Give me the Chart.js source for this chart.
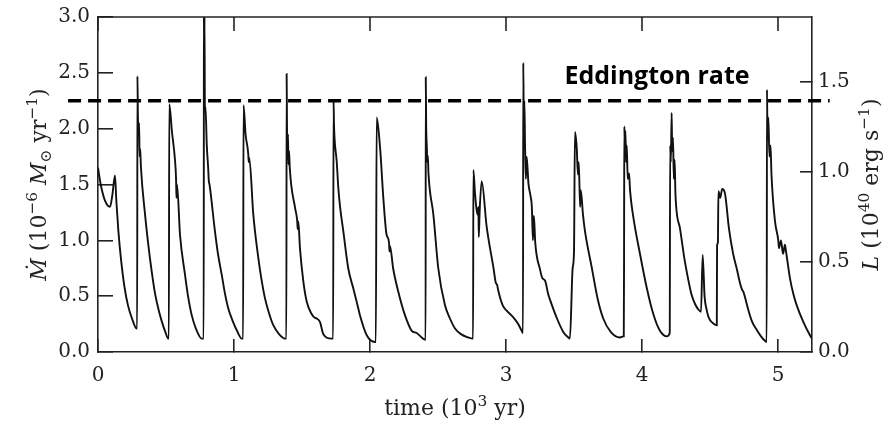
<!DOCTYPE html>
<html>
<head>
<meta charset="utf-8">
<script src="https://cdn.jsdelivr.net/npm/chart.js@4.4.1/dist/chart.umd.min.js"></script>
<style>
  html, body { margin: 0; padding: 0; background: #fff; }
</style>
</head>
<body>
<canvas id="grafico" width="888" height="426"></canvas>
<script>
// tempo em 10^3 yr, taxa de acrecao em 10^-6 Msun/yr
const tempo = [
  0.000, 0.020, 0.050, 0.088, 0.105, 0.125, 0.135, 0.150, 0.170, 0.195, 0.220, 0.250, 0.284,
  0.288, 0.290, 0.293, 0.298, 0.302, 0.306, 0.310, 0.316, 0.346, 0.368, 0.395, 0.420, 0.445, 0.470, 0.495, 0.517,
  0.521, 0.524, 0.544, 0.566, 0.574, 0.577, 0.581, 0.603, 0.640, 0.662, 0.689, 0.720, 0.763,
  0.777, 0.779, 0.781, 0.783, 0.786, 0.790, 0.800, 0.810, 0.815, 0.820, 0.860, 0.882, 0.910, 0.934, 0.958, 0.993, 1.022, 1.057,
  1.067, 1.070, 1.085, 1.105, 1.108, 1.112, 1.142, 1.179, 1.202, 1.228, 1.257, 1.289, 1.331, 1.375,
  1.385, 1.387, 1.390, 1.393, 1.397, 1.400, 1.405, 1.410, 1.449, 1.465, 1.468, 1.473, 1.485, 1.510, 1.535, 1.571, 1.590, 1.608, 1.632, 1.657, 1.718,
  1.729, 1.732, 1.735, 1.740, 1.755, 1.767, 1.780, 1.804, 1.840, 1.877, 1.904, 1.926, 1.976, 2.037,
  2.043, 2.049, 2.074, 2.098, 2.122, 2.140, 2.143, 2.147, 2.170, 2.208, 2.257, 2.307, 2.343, 2.380, 2.407,
  2.409, 2.410, 2.413, 2.418, 2.421, 2.425, 2.430, 2.466, 2.502, 2.551, 2.588, 2.625, 2.669, 2.723, 2.756,
  2.758, 2.760, 2.772, 2.790, 2.797, 2.800, 2.806, 2.821, 2.858, 2.907, 2.925, 2.935, 2.943, 2.975, 3.005, 3.054, 3.090, 3.115, 3.125,
  3.127, 3.131, 3.135, 3.140, 3.146, 3.152, 3.165, 3.180, 3.190, 3.198, 3.205, 3.215, 3.250, 3.268, 3.287, 3.310, 3.326, 3.375, 3.421, 3.458, 3.470,
  3.490, 3.500, 3.507, 3.520, 3.529, 3.535, 3.545, 3.550, 3.566, 3.581, 3.630, 3.675, 3.715, 3.770, 3.838, 3.864,
  3.866, 3.868, 3.870, 3.874, 3.878, 3.883, 3.888, 3.895, 3.905, 3.912, 3.936, 3.985, 4.034, 4.083, 4.132, 4.182, 4.204,
  4.207, 4.212, 4.218, 4.222, 4.228, 4.234, 4.240, 4.246, 4.279, 4.310, 4.335, 4.363, 4.390, 4.415, 4.434, 4.446, 4.460, 4.475, 4.490, 4.520, 4.550,
  4.552, 4.558, 4.562, 4.575, 4.590, 4.610, 4.640, 4.670, 4.696, 4.720, 4.735, 4.745, 4.781, 4.810, 4.843, 4.875, 4.904, 4.917,
  4.919, 4.923, 4.929, 4.937, 4.945, 4.952, 4.978, 5.002, 5.007, 5.022, 5.037, 5.051, 5.059, 5.088, 5.113, 5.137, 5.186, 5.235, 5.250
];
const mdot = [
  1.65, 1.50, 1.36, 1.30, 1.40, 1.58, 1.35, 1.08, 0.82, 0.58, 0.42, 0.30, 0.21,
  0.21, 2.47, 2.15, 1.95, 2.05, 1.75, 1.82, 1.65, 1.23, 0.98, 0.72, 0.52, 0.38, 0.27, 0.18, 0.12,
  0.12, 2.22, 1.97, 1.72, 1.55, 1.38, 1.50, 1.05, 0.69, 0.50, 0.33, 0.21, 0.12,
  0.12, 3.00, 2.30, 3.00, 2.15, 2.20, 1.85, 1.65, 1.53, 1.50, 1.08, 0.88, 0.69, 0.52, 0.39, 0.27, 0.19, 0.12,
  0.12, 2.21, 1.95, 1.77, 1.70, 1.74, 1.23, 0.84, 0.65, 0.48, 0.35, 0.24, 0.16, 0.12,
  0.12, 2.49, 1.97, 1.80, 1.95, 1.68, 1.80, 1.65, 1.29, 1.17, 1.10, 1.17, 0.93, 0.63, 0.45, 0.34, 0.31, 0.30, 0.27, 0.16, 0.12,
  0.12, 2.25, 2.05, 1.90, 1.71, 1.47, 1.30, 1.08, 0.75, 0.57, 0.44, 0.33, 0.15, 0.09,
  0.09, 2.10, 1.83, 1.38, 1.05, 0.98, 0.90, 0.95, 0.75, 0.54, 0.33, 0.19, 0.17, 0.13, 0.11,
  0.11, 2.46, 2.03, 1.83, 1.70, 1.76, 1.60, 1.23, 0.75, 0.42, 0.30, 0.21, 0.16, 0.13, 0.12,
  0.12, 1.63, 1.42, 1.23, 1.30, 1.03, 1.25, 1.53, 1.12, 0.76, 0.62, 0.60, 0.55, 0.42, 0.37, 0.31, 0.25, 0.19, 0.17,
  2.59, 2.05, 2.25, 1.85, 1.55, 1.75, 1.51, 1.40, 1.30, 1.00, 1.22, 0.98, 0.74, 0.66, 0.64, 0.52, 0.46, 0.30, 0.18, 0.13, 0.12,
  0.75, 0.90, 1.97, 1.83, 1.59, 1.70, 1.30, 1.45, 1.23, 1.08, 0.76, 0.47, 0.30, 0.18, 0.13, 0.14,
  0.14, 0.80, 2.02, 1.85, 1.98, 1.70, 1.85, 1.55, 1.60, 1.45, 1.21, 0.88, 0.58, 0.34, 0.19, 0.14, 0.17,
  1.85, 1.70, 2.14, 1.80, 1.92, 1.55, 1.72, 1.41, 1.11, 0.85, 0.68, 0.52, 0.43, 0.38, 0.36, 0.87, 0.50, 0.38, 0.31, 0.26, 0.24,
  0.95, 0.98, 1.44, 1.38, 1.46, 1.42, 1.10, 0.88, 0.75, 0.62, 0.56, 0.54, 0.38, 0.27, 0.20, 0.14, 0.10, 0.09,
  2.35, 1.90, 2.10, 1.75, 1.85, 1.59, 1.17, 1.00, 0.93, 1.00, 0.88, 0.96, 0.90, 0.66, 0.52, 0.42, 0.27, 0.15, 0.12
];

const xTicks = [0, 1, 2, 3, 4, 5];
const mdotTicks = [0, 0.5, 1, 1.5, 2, 2.5, 3];
const lumTicks = [0, 0.5, 1, 1.5];
const xMin = 0, xMax = 5.25, mdotMax = 3;
const lumPorMdot = 0.619;          // L (10^40 erg/s) por unidade de Mdot
const eddington = 2.25;
const eddExtensao = [-0.22, 5.38];
const eddTexto = 'Eddington rate';
const eddTextoPos = [4.11, 2.40];
const marcaTopo = 0.125;           // comprimento das marcas de cima, em unidades de Mdot

const pontos = tempo.map((t, i) => ({ x: t, y: mdot[i] }));
const linhaEdd = eddExtensao.map(t => ({ x: t, y: eddington }));
// borda de cima e marcas de cima como linhas
const bordaTopo = [{ x: xMin, y: mdotMax }, { x: xMax, y: mdotMax }];
const marcasTopo = xTicks.flatMap(v => [{ x: v, y: mdotMax }, { x: v, y: mdotMax - marcaTopo }, { x: v, y: null }]);

const tituloX = [{ t: 'time (10' }, { t: '3', s: 'sup' }, { t: ' yr)' }];
const tituloY = [{ t: 'Ṁ', i: true }, { t: ' (10' }, { t: '−6', s: 'sup' }, { t: ' ' }, { t: 'M', i: true },
                 { t: '⊙', s: 'sub' }, { t: ' yr' }, { t: '−1', s: 'sup' }, { t: ')' }];
const tituloY2 = [{ t: 'L', i: true }, { t: ' (10' }, { t: '40', s: 'sup' }, { t: ' erg s' }, { t: '−1', s: 'sup' }, { t: ')' }];

function fonte(p, size) {
  const sz = (p.s === 'sup' || p.s === 'sub') ? size * 0.7 : size;
  return (p.i ? 'italic ' : '') + sz + 'px "DejaVu Serif"';
}

function textoRico(ctx, partes, size) {
  let w = 0;
  partes.forEach(p => { ctx.font = fonte(p, size); w += ctx.measureText(p.t).width; });
  let x = -w / 2;
  partes.forEach(p => {
    ctx.font = fonte(p, size);
    const dy = p.s === 'sup' ? -size * 0.42 : p.s === 'sub' ? size * 0.22 : 0;
    ctx.fillText(p.t, x, dy);
    x += ctx.measureText(p.t).width;
  });
}

// rotulo de Eddington e titulos com sobrescritos
const textos = {
  id: 'textos',
  afterDraw(chart) {
    const ctx = chart.ctx;
    const a = chart.chartArea;
    const sx = chart.scales.x, sy = chart.scales.y;
    ctx.save();
    ctx.fillStyle = '#000';
    ctx.font = 'bold 25px "Open Sans"';
    ctx.textAlign = 'center';
    ctx.textBaseline = 'alphabetic';
    ctx.fillText(eddTexto, sx.getPixelForValue(eddTextoPos[0]), sy.getPixelForValue(eddTextoPos[1]));

    ctx.fillStyle = '#222';
    ctx.textAlign = 'left';
    const cx = (a.left + a.right) / 2, cy = (a.top + a.bottom) / 2;
    ctx.save();
    ctx.translate(cx, 415);
    textoRico(ctx, tituloX, 22);
    ctx.restore();
    ctx.save();
    ctx.translate(46, cy);
    ctx.rotate(-Math.PI / 2);
    textoRico(ctx, tituloY, 22);
    ctx.restore();
    ctx.save();
    ctx.translate(878, cy);
    ctx.rotate(-Math.PI / 2);
    textoRico(ctx, tituloY2, 22);
    ctx.restore();
    ctx.restore();
  }
};

const fonteTicks = { family: 'DejaVu Serif', size: 20 };
const borda = { display: true, color: '#222', width: 1.6 };
// marcas para dentro: tickLength negativo
const marcas = len => ({ display: true, drawOnChartArea: false, drawTicks: true, tickLength: -len,
                         color: '#222', tickColor: '#222', lineWidth: 1.6, tickWidth: 1.6 });
// sem folga extra das escalas verticais no topo/base
const semFolga = s => { s.paddingTop = 0; s.paddingBottom = 0; };

new Chart(document.getElementById('grafico'), {
  type: 'line',
  data: {
    datasets: [
      { data: pontos, borderColor: '#111', borderWidth: 1.9, pointRadius: 0,
        cubicInterpolationMode: 'monotone', yAxisID: 'y' },
      { data: linhaEdd, borderColor: '#000', borderWidth: 3.5, borderDash: [13, 7],
        pointRadius: 0, clip: false, yAxisID: 'y' },
      { data: bordaTopo, borderColor: '#222', borderWidth: 1.6, pointRadius: 0,
        clip: false, yAxisID: 'y' },
      { data: marcasTopo, borderColor: '#222', borderWidth: 1.6, pointRadius: 0,
        spanGaps: false, clip: false, yAxisID: 'y' }
    ]
  },
  options: {
    responsive: false,
    animation: false,
    devicePixelRatio: 1,
    layout: { padding: { top: 17, left: 0, right: 0, bottom: 0 } },
    plugins: { legend: { display: false }, tooltip: { enabled: false } },
    scales: {
      x: {
        type: 'linear', position: 'bottom', min: xMin, max: xMax,
        grid: marcas(13), border: borda,
        afterBuildTicks: s => { s.ticks = xTicks.map(v => ({ value: v })); },
        afterFit: s => { s.height = 74; s.paddingLeft = 0; s.paddingRight = 0; },
        ticks: { padding: 25, color: '#222', font: fonteTicks, maxRotation: 0, autoSkip: false,
                 callback: v => String(v) }
      },
      y: {
        type: 'linear', position: 'left', min: 0, max: mdotMax,
        grid: marcas(15), border: borda,
        afterBuildTicks: s => { s.ticks = mdotTicks.map(v => ({ value: v })); },
        afterFit: s => { s.width = 98; semFolga(s); },
        ticks: { padding: 23, color: '#222', font: fonteTicks, callback: v => v.toFixed(1) }
      },
      y2: {
        type: 'linear', position: 'right', min: 0, max: mdotMax * lumPorMdot,
        grid: marcas(12), border: borda,
        afterBuildTicks: s => { s.ticks = lumTicks.map(v => ({ value: v })); },
        afterFit: s => { s.width = 76; semFolga(s); },
        ticks: { padding: 18, color: '#222', font: fonteTicks, callback: v => v.toFixed(1) }
      }
    }
  },
  plugins: [textos]
});
</script>
</body>
</html>
